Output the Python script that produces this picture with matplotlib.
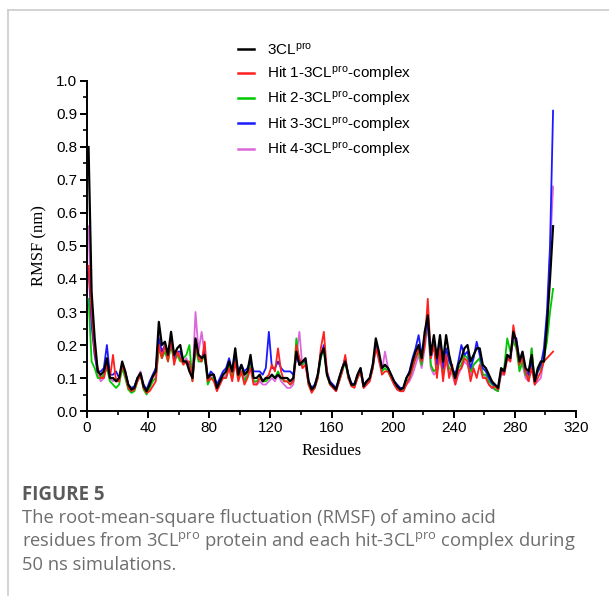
import matplotlib
matplotlib.use("Agg")
import matplotlib.pyplot as plt
import numpy as np
from matplotlib.lines import Line2D
from matplotlib.ticker import MultipleLocator, FormatStrFormatter

plt.rcParams['mathtext.default'] = 'regular'

# residue numbers (every second residue)
residues = np.arange(1, 307, 2)

# RMSF (nm) values
rmsf_apo = [
    0.80, 0.36, 0.22, 0.12, 0.11, 0.12, 0.16, 0.10, 0.10, 0.09, 0.10, 0.15, 0.12, 0.08, 0.065, 0.07, 0.10,
    0.115, 0.075, 0.06, 0.08, 0.105, 0.12, 0.27, 0.20, 0.21, 0.17, 0.24, 0.17, 0.19, 0.20, 0.15, 0.15,
    0.12, 0.10, 0.22, 0.17, 0.16, 0.17, 0.10, 0.11, 0.11, 0.07, 0.09, 0.11, 0.12, 0.15, 0.12, 0.19,
    0.11, 0.14, 0.11, 0.12, 0.17, 0.10, 0.10, 0.11, 0.09, 0.10, 0.10, 0.11, 0.10, 0.11,
    0.10, 0.10, 0.10, 0.09, 0.10, 0.18, 0.14, 0.15, 0.16, 0.09, 0.065, 0.075, 0.11, 0.17, 0.19,
    0.11, 0.085, 0.075, 0.065, 0.10, 0.13, 0.15, 0.11, 0.08, 0.08, 0.11, 0.13, 0.075, 0.09, 0.10,
    0.14, 0.22, 0.18, 0.13, 0.14, 0.13, 0.11, 0.09, 0.075, 0.065, 0.07, 0.10, 0.115, 0.15, 0.18, 0.20,
    0.16, 0.24, 0.29, 0.17, 0.23, 0.16, 0.23, 0.15, 0.23, 0.17, 0.13, 0.10, 0.14, 0.16, 0.19,
    0.20, 0.15, 0.17, 0.19, 0.19, 0.14, 0.13, 0.11, 0.09, 0.08, 0.07, 0.13, 0.12, 0.17, 0.16,
    0.24, 0.21, 0.15, 0.18, 0.13, 0.12, 0.17, 0.09, 0.13, 0.15, 0.15, 0.26, 0.40, 0.56,
]
rmsf_hit1 = [
    0.44, 0.30, 0.18, 0.13, 0.10, 0.10, 0.14, 0.10, 0.17, 0.09, 0.09, 0.14, 0.11, 0.07, 0.06, 0.065, 0.09,
    0.11, 0.07, 0.055, 0.06, 0.075, 0.09, 0.20, 0.16, 0.20, 0.15, 0.22, 0.14, 0.18, 0.16, 0.14, 0.15,
    0.15, 0.09, 0.20, 0.16, 0.15, 0.21, 0.09, 0.10, 0.09, 0.06, 0.08, 0.10, 0.10, 0.13, 0.09, 0.15,
    0.09, 0.12, 0.08, 0.10, 0.13, 0.08, 0.08, 0.10, 0.09, 0.10, 0.11, 0.14, 0.12, 0.19,
    0.12, 0.09, 0.09, 0.08, 0.09, 0.20, 0.16, 0.13, 0.14, 0.08, 0.055, 0.07, 0.10, 0.19, 0.24,
    0.12, 0.08, 0.07, 0.06, 0.09, 0.12, 0.17, 0.10, 0.075, 0.07, 0.10, 0.12, 0.07, 0.08, 0.09,
    0.13, 0.19, 0.16, 0.11, 0.12, 0.12, 0.10, 0.08, 0.065, 0.06, 0.06, 0.08, 0.10, 0.13, 0.16, 0.19,
    0.15, 0.20, 0.34, 0.16, 0.20, 0.10, 0.19, 0.09, 0.17, 0.10, 0.14, 0.08, 0.12, 0.13, 0.16,
    0.15, 0.09, 0.13, 0.10, 0.14, 0.10, 0.10, 0.08, 0.07, 0.075, 0.065, 0.12, 0.11, 0.16, 0.15,
    0.26, 0.20, 0.14, 0.16, 0.12, 0.09, 0.13, 0.08, 0.10, 0.12, 0.15, 0.16, 0.17, 0.18,
]
rmsf_hit2 = [
    0.34, 0.15, 0.13, 0.10, 0.10, 0.11, 0.13, 0.09, 0.08, 0.07, 0.08, 0.13, 0.10, 0.065, 0.055, 0.06, 0.09,
    0.11, 0.065, 0.05, 0.07, 0.09, 0.10, 0.19, 0.16, 0.18, 0.15, 0.20, 0.15, 0.17, 0.15, 0.16, 0.17,
    0.20, 0.09, 0.19, 0.15, 0.15, 0.17, 0.08, 0.10, 0.10, 0.065, 0.09, 0.10, 0.10, 0.14, 0.10, 0.16,
    0.10, 0.12, 0.09, 0.11, 0.14, 0.09, 0.09, 0.10, 0.09, 0.09, 0.10, 0.11, 0.10, 0.12,
    0.10, 0.09, 0.09, 0.08, 0.09, 0.22, 0.14, 0.14, 0.15, 0.08, 0.06, 0.07, 0.10, 0.16, 0.19,
    0.11, 0.08, 0.075, 0.065, 0.09, 0.12, 0.15, 0.10, 0.08, 0.075, 0.10, 0.12, 0.075, 0.085, 0.095,
    0.13, 0.20, 0.16, 0.12, 0.13, 0.12, 0.10, 0.085, 0.07, 0.065, 0.065, 0.09, 0.10, 0.13, 0.16, 0.18,
    0.14, 0.21, 0.27, 0.14, 0.12, 0.13, 0.18, 0.12, 0.16, 0.13, 0.12, 0.09, 0.13, 0.14, 0.17,
    0.16, 0.12, 0.14, 0.15, 0.16, 0.11, 0.11, 0.09, 0.08, 0.065, 0.06, 0.12, 0.13, 0.22, 0.18,
    0.21, 0.19, 0.12, 0.15, 0.11, 0.10, 0.19, 0.08, 0.12, 0.13, 0.16, 0.21, 0.30, 0.37,
]
rmsf_hit3 = [
    0.43, 0.26, 0.17, 0.12, 0.12, 0.13, 0.20, 0.11, 0.11, 0.12, 0.10, 0.14, 0.12, 0.08, 0.07, 0.075, 0.10,
    0.11, 0.08, 0.065, 0.09, 0.11, 0.13, 0.22, 0.18, 0.20, 0.17, 0.21, 0.16, 0.18, 0.18, 0.15, 0.15,
    0.14, 0.10, 0.20, 0.17, 0.16, 0.18, 0.10, 0.12, 0.11, 0.08, 0.10, 0.12, 0.13, 0.16, 0.12, 0.17,
    0.12, 0.14, 0.12, 0.13, 0.15, 0.12, 0.12, 0.12, 0.11, 0.13, 0.24, 0.13, 0.13, 0.15,
    0.13, 0.12, 0.12, 0.12, 0.11, 0.17, 0.14, 0.15, 0.15, 0.09, 0.07, 0.08, 0.11, 0.17, 0.20,
    0.12, 0.09, 0.08, 0.07, 0.10, 0.13, 0.16, 0.11, 0.085, 0.08, 0.11, 0.13, 0.08, 0.09, 0.10,
    0.14, 0.20, 0.17, 0.13, 0.14, 0.13, 0.11, 0.09, 0.08, 0.07, 0.07, 0.10, 0.12, 0.16, 0.19, 0.23,
    0.17, 0.22, 0.27, 0.16, 0.20, 0.14, 0.20, 0.13, 0.19, 0.15, 0.13, 0.11, 0.15, 0.20, 0.17,
    0.18, 0.13, 0.16, 0.21, 0.17, 0.13, 0.12, 0.10, 0.085, 0.075, 0.07, 0.12, 0.12, 0.17, 0.16,
    0.23, 0.22, 0.15, 0.17, 0.12, 0.11, 0.15, 0.09, 0.12, 0.14, 0.19, 0.30, 0.50, 0.91,
]
rmsf_hit4 = [
    0.56, 0.28, 0.17, 0.11, 0.09, 0.10, 0.14, 0.10, 0.09, 0.10, 0.09, 0.14, 0.11, 0.07, 0.06, 0.065, 0.10,
    0.12, 0.08, 0.06, 0.08, 0.10, 0.11, 0.23, 0.17, 0.20, 0.16, 0.21, 0.16, 0.18, 0.17, 0.15, 0.16,
    0.13, 0.10, 0.30, 0.18, 0.24, 0.17, 0.09, 0.11, 0.10, 0.07, 0.09, 0.10, 0.11, 0.15, 0.10, 0.16,
    0.10, 0.12, 0.10, 0.11, 0.14, 0.09, 0.08, 0.09, 0.08, 0.08, 0.09, 0.10, 0.09, 0.11,
    0.09, 0.08, 0.07, 0.07, 0.08, 0.17, 0.24, 0.13, 0.14, 0.08, 0.065, 0.07, 0.10, 0.17, 0.19,
    0.11, 0.08, 0.07, 0.06, 0.09, 0.12, 0.16, 0.10, 0.08, 0.075, 0.10, 0.12, 0.07, 0.08, 0.09,
    0.13, 0.20, 0.15, 0.12, 0.18, 0.13, 0.10, 0.08, 0.065, 0.06, 0.06, 0.08, 0.09, 0.11, 0.14, 0.17,
    0.13, 0.19, 0.26, 0.13, 0.11, 0.12, 0.16, 0.11, 0.15, 0.12, 0.11, 0.08, 0.11, 0.13, 0.15,
    0.14, 0.11, 0.14, 0.15, 0.16, 0.11, 0.10, 0.08, 0.07, 0.065, 0.06, 0.11, 0.11, 0.16, 0.15,
    0.22, 0.19, 0.13, 0.14, 0.10, 0.09, 0.19, 0.08, 0.09, 0.10, 0.16, 0.24, 0.48, 0.68,
]

labels = ['3CL$^{pro}$', 'Hit 1-3CL$^{pro}$-complex', 'Hit 2-3CL$^{pro}$-complex',
          'Hit 3-3CL$^{pro}$-complex', 'Hit 4-3CL$^{pro}$-complex']
colors = ['#000000', '#ff2020', '#00c800', '#1a1aff', '#dd66dd']
series = [rmsf_apo, rmsf_hit1, rmsf_hit2, rmsf_hit3, rmsf_hit4]

fig = plt.figure(figsize=(6.09, 5.96), dpi=100)
ax = fig.add_axes([0.1429, 0.3104, 0.8029, 0.5537])

# draw order: coloured complexes first, apo protein on top
draw_order = [4, 2, 3, 1, 0]
handles = {}
for k in draw_order:
    lw = 1.6 if k == 0 else 1.3
    h, = ax.plot(residues, series[k], color=colors[k], lw=lw, label=labels[k], zorder=2 + draw_order.index(k))
    handles[k] = h

ax.set_xlim(0, 320)
ax.set_ylim(0, 1.0)
ax.xaxis.set_major_locator(MultipleLocator(40))
ax.xaxis.set_minor_locator(MultipleLocator(20))
ax.yaxis.set_major_locator(MultipleLocator(0.1))
ax.yaxis.set_minor_locator(MultipleLocator(0.05))
ax.yaxis.set_major_formatter(FormatStrFormatter('%.1f'))
for s in ['top', 'right']:
    ax.spines[s].set_visible(False)
for s in ['left', 'bottom']:
    ax.spines[s].set_linewidth(1.4)
ax.tick_params(which='major', length=5, width=1.4, labelsize=11, pad=2)
ax.tick_params(which='minor', length=3, width=1.2)
for lab in ax.get_xticklabels() + ax.get_yticklabels():
    lab.set_fontfamily('Liberation Sans')

ax.set_xlabel('Residues', family='Liberation Serif', fontsize=12, labelpad=6)
ax.set_ylabel('RMSF (nm)', family='Liberation Serif', fontsize=12, labelpad=6)

leg = fig.legend([handles[k] for k in range(5)], labels, loc='upper left',
                 bbox_to_anchor=(0.369, 0.953), frameon=False,
                 prop={'family': 'Liberation Sans', 'size': 11},
                 handlelength=1.0, handletextpad=0.85, labelspacing=0.42)
for line in leg.get_lines():
    line.set_linewidth(1.8)

# card frame
frame_col = '#cccccc'
fig.add_artist(Line2D([8 / 609, 1], [1 - 10 / 596, 1 - 10 / 596], color=frame_col, lw=1.2))
fig.add_artist(Line2D([8 / 609, 8 / 609], [0, 1 - 10 / 596], color=frame_col, lw=1.2))

# caption
fig.text(22 / 609, 1 - 500 / 596, 'FIGURE 5', family='Open Sans', fontweight='bold',
         fontsize=13.5, color='#5a5a5a', va='baseline')
caption = ['The root-mean-square fluctuation (RMSF) of amino acid',
           'residues from 3CL$^{pro}$ protein and each hit-3CL$^{pro}$ complex during',
           '50 ns simulations.']
for i, line in enumerate(caption):
    fig.text(22 / 609, 1 - (523 + 23.5 * i) / 596, line, family='Open Sans',
             fontsize=13.2, color='#6e6e6e', va='baseline')

fig.savefig('out.png', dpi=100)
